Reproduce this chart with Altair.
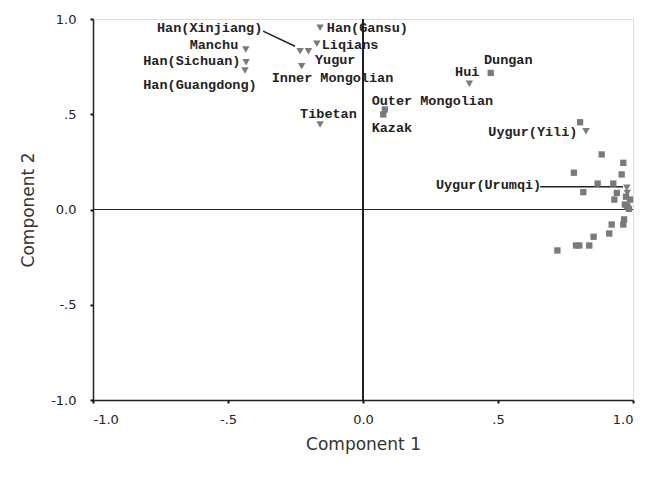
import altair as alt
import pandas as pd

# Triangle (down) markers
tri_x = [-0.159, -0.434, -0.433, -0.437, -0.233, -0.202, -0.171, -0.227, -0.159, 0.394, 0.826, 0.977, 0.979]
tri_y = [0.954, 0.840, 0.773, 0.730, 0.831, 0.831, 0.870, 0.752, 0.446, 0.660, 0.411, 0.114, 0.087]

# Square markers
sq_x = [0.081, 0.075, 0.473, 0.804, 0.884, 0.964, 0.781, 0.958, 0.869, 0.927, 0.816, 0.940,
        0.974, 0.931, 0.989, 0.970, 0.979, 0.985, 0.967, 0.964, 0.921, 0.912, 0.854, 0.838,
        0.801, 0.789, 0.720]
sq_y = [0.525, 0.499, 0.717, 0.458, 0.289, 0.245, 0.193, 0.184, 0.136, 0.136, 0.091, 0.087,
        0.067, 0.052, 0.052, 0.026, 0.017, 0.003, -0.052, -0.079, -0.079, -0.126, -0.143, -0.189,
        -0.189, -0.189, -0.215]

# Labels (anchor in data units)
lab_text = ["Han(Xinjiang)", "Han(Gansu)", "Han(Sichuan)", "Han(Guangdong)", "Liqians", "Yugur",
            "Inner Mongolian", "Tibetan", "Outer Mongolian", "Kazak", "Dungan", "Hui",
            "Uygur(Yili)", "Uygur(Urumqi)"]
lab_x = [-0.763, -0.134, -0.814, -0.814, -0.153, -0.178, -0.338, -0.233, 0.032, 0.032, 0.448, 0.341,
         0.464, 0.270]
lab_y = [0.954, 0.954, 0.778, 0.656, 0.866, 0.787, 0.691, 0.499, 0.568, 0.429, 0.787, 0.721,
         0.408, 0.131]
rlab_text = ["Manchu"]
rlab_x = [-0.462]
rlab_y = [0.866]

# Leader lines
lead_x = [-0.370, 0.656]
lead_y = [0.936, 0.119]
lead_x2 = [-0.252, 0.963]
lead_y2 = [0.857, 0.119]

tri_df = pd.DataFrame({"x": tri_x, "y": tri_y})
sq_df = pd.DataFrame({"x": sq_x, "y": sq_y})
lab_df = pd.DataFrame({"t": lab_text, "x": lab_x, "y": lab_y})
rlab_df = pd.DataFrame({"t": rlab_text, "x": rlab_x, "y": rlab_y})
lead_df = pd.DataFrame({"x": lead_x, "y": lead_y, "x2": lead_x2, "y2": lead_y2})

ticks = [-1, -0.5, 0, 0.5, 1]
lab_expr = ("datum.value == 0 ? '0.0' : datum.value == 0.5 ? '.5' : datum.value == -0.5 ? '-.5' : "
            "datum.value == 1 ? '1.0' : '-1.0'")

xs = alt.Scale(domain=[-1, 1], nice=False, zero=False)
ys = alt.Scale(domain=[-1, 1], nice=False, zero=False)

axis_common = dict(values=ticks, labelExpr=lab_expr, grid=False, tickSize=3, tickWidth=2,
                   tickColor="#111", domainColor="#222", domainWidth=1.5,
                   labelFont="DejaVu Sans", labelFontSize=13, labelColor="#222",
                   titleFont="DejaVu Sans", titleFontSize=17, titleFontWeight="normal",
                   titleColor="#333")

xenc = alt.X("x:Q", scale=xs, axis=alt.Axis(title="Component 1", labelPadding=10, titlePadding=10,
                                            **axis_common))
yenc = alt.Y("y:Q", scale=ys, axis=alt.Axis(title="Component 2", labelPadding=14, titlePadding=13,
                                            **axis_common))

zero_v = alt.Chart(tri_df).mark_rule(color="#222", strokeWidth=1.2).encode(
    x=alt.datum(0, scale=xs))
zero_h = alt.Chart(tri_df).mark_rule(color="#222", strokeWidth=1.2).encode(
    y=alt.datum(0, scale=ys))

leaders = alt.Chart(lead_df).mark_rule(color="#222", strokeWidth=1.5).encode(
    x=alt.X("x:Q", scale=xs), y=alt.Y("y:Q", scale=ys), x2="x2:Q", y2="y2:Q")

tris = alt.Chart(tri_df).mark_point(shape="triangle-down", filled=True, color="#7a7a7a",
                                    size=55, opacity=1).encode(x=xenc, y=yenc)
sqs = alt.Chart(sq_df).mark_point(shape="square", filled=True, color="#7a7a7a",
                                  size=40, opacity=1).encode(x=alt.X("x:Q", scale=xs),
                                                             y=alt.Y("y:Q", scale=ys))

labels = alt.Chart(lab_df).mark_text(align="left", baseline="middle", font="Liberation Mono",
                                     fontSize=13.5, fontWeight="bold", color="#222").encode(
    x=alt.X("x:Q", scale=xs), y=alt.Y("y:Q", scale=ys), text="t:N")
rlabels = alt.Chart(rlab_df).mark_text(align="right", baseline="middle", font="Liberation Mono",
                                       fontSize=13.5, fontWeight="bold", color="#222").encode(
    x=alt.X("x:Q", scale=xs), y=alt.Y("y:Q", scale=ys), text="t:N")

chart = alt.layer(tris, zero_v, zero_h, leaders, sqs, labels, rlabels).properties(
    width=540, height=381,
    autosize=alt.AutoSizeParams(type="none"),
    padding={"left": 85, "top": 11, "right": 6, "bottom": 60},
).configure_view(stroke="#222", strokeWidth=1.5).configure(background="white")

chart.save("out.html", embed_options={"renderer": "svg", "actions": False})
